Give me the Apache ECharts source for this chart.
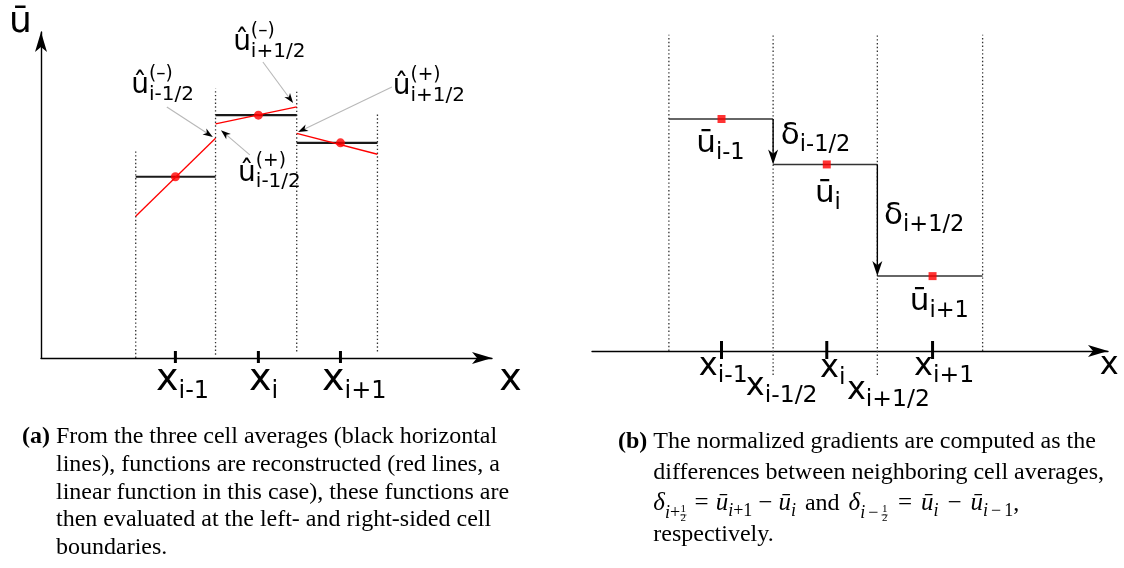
<!DOCTYPE html>
<html>
<head>
<meta charset="utf-8">
<title>cell averages and gradients</title>
<script src="https://cdn.jsdelivr.net/npm/echarts@6.0.0/dist/echarts.min.js"></script>
<style>
  html, body { margin: 0; padding: 0; background: #fff; }
  #chart { width: 1124px; height: 568px; }
</style>
</head>
<body>
<div id="chart"></div>
<script>
// ---- panel (a): linear reconstruction inside three cells ----
var aBounds = [21.0, 38.7, 56.7, 74.6];      // cell faces
var aBoundTop = [63.8, 82.7, 82.2, 75.1];    // top of the dotted face lines
var aBoundBottom = [0, 1, 2, 2];
var aCenters = [29.8, 48.2, 66.4];           // x_{i-1}, x_i, x_{i+1}
var aAverages = [55.6, 74.5, 66.0];          // cell averages
var aLeftValues = [43.5, 71.8, 68.9];        // reconstruction at the left face
var aRightValues = [67.4, 77.0, 62.5];       // reconstruction at the right face
var aPointers = [                            // label -> face value pointers
  [27.9, 77.0, 38.1, 67.8],
  [49.2, 90.8, 55.9, 78.2],
  [77.8, 83.1, 57.0, 69.3],
  [46.3, 62.3, 39.9, 69.9]
];
var aFaceLabels = [['û', '(–)', 'i-1/2'], ['û', '(–)', 'i+1/2'], ['û', '(+)', 'i+1/2'], ['û', '(+)', 'i-1/2']];
var aFaceLabelAt = [[20.0, 80.4], [42.6, 93.6], [78.0, 80.1], [43.7, 53.7]];
var aTickLabels = [['x', '', 'i-1'], ['x', '', 'i'], ['x', '', 'i+1'], ['x', '', '']];
var aTickLabelAt = [[25.5, -10.7], [46.1, -10.7], [62.3, -10.7], [101.6, -10.7]];
var aAxisLabels = [['ū', '', '']];
var aAxisLabelAt = [[-7.1, 99.0]];

// ---- panel (b): differences of neighbouring averages ----
var bBounds = [14.9, 35.1, 55.3, 75.7];
var bBoundTop = [98.8, 98.8, 98.8, 98.8];
var bBoundBottom = [0, -7.5, -7.5, 0];
var bCenters = [25.1, 45.5, 66.0];
var bAverages = [72.5, 58.3, 23.4];
var bValueLabels = [['ū', '', 'i-1'], ['δ', '', 'i-1/2'], ['ū', '', 'i'], ['δ', '', 'i+1/2'], ['ū', '', 'i+1']];
var bValueLabelAt = [[20.2, 61.25], [36.6, 63.75], [43.2, 45.6], [56.6, 38.75], [61.6, 11.9]];
var bTickLabels = [['x', '', 'i-1'], ['x', '', 'i-1/2'], ['x', '', 'i'], ['x', '', 'i+1/2'], ['x', '', 'i+1'], ['x', '', '']];
var bTickLabelAt = [[20.7, -8.4], [29.8, -14.7], [44.2, -9.1], [49.4, -15.9], [62.4, -8.4], [98.4, -8.1]];

var captionA = [
  'From the three cell averages (black horizontal',
  'lines), functions are reconstructed (red lines, a',
  'linear function in this case), these functions are',
  'then evaluated at the left- and right-sided cell',
  'boundaries.'
];
var captionB = [
  'The normalized gradients are computed as the',
  'differences between neighboring cell averages,',
  null,
  'respectively.'
];

var measureCtx = document.createElement('canvas').getContext('2d');
function textWidth(s, font) {
  measureCtx.font = font;
  return measureCtx.measureText(s).width;
}

function sansText(s, x, baseline, size) {
  return {
    type: 'text', x: x, y: baseline - 0.346 * size,
    style: { text: s, fontSize: size, fontFamily: 'DejaVu Sans', fill: '#000', align: 'left', verticalAlign: 'middle' }
  };
}

// base glyph with optional superscript (t[1]) and subscript (t[2])
function labelSeries(gi, texts, at, size, subSize) {
  return {
    type: 'custom', xAxisIndex: gi, yAxisIndex: gi, clip: false, silent: true, z: 6,
    data: at.map(function (p, k) { return [p[0], p[1], k]; }),
    renderItem: function (params, api) {
      var t = texts[api.value(2)];
      var p = api.coord([api.value(0), api.value(1)]);
      var w = textWidth(t[0], size + 'px "DejaVu Sans"');
      var kids = [sansText(t[0], p[0], p[1], size)];
      if (t[1]) kids.push(sansText(t[1], p[0] + w, p[1] - 0.55 * size, subSize * 0.93));
      if (t[2]) kids.push(sansText(t[2], p[0] + w, p[1] + 0.2 * size, subSize));
      return { type: 'group', children: kids };
    }
  };
}

function segmentSeries(gi, segs, style, z) {
  return {
    type: 'custom', xAxisIndex: gi, yAxisIndex: gi, clip: false, silent: true, z: z || 2,
    data: segs,
    renderItem: function (params, api) {
      var p1 = api.coord([api.value(0), api.value(1)]);
      var p2 = api.coord([api.value(2), api.value(3)]);
      return {
        type: 'line',
        shape: { x1: p1[0], y1: p1[1], x2: p2[0], y2: p2[1] },
        style: Object.assign({}, style)
      };
    }
  };
}

function arrowSeries(gi, segs, shaftColor, lw, headLen, headWid) {
  return {
    type: 'custom', xAxisIndex: gi, yAxisIndex: gi, clip: false, silent: true, z: 4,
    data: segs,
    renderItem: function (params, api) {
      var p1 = api.coord([api.value(0), api.value(1)]);
      var p2 = api.coord([api.value(2), api.value(3)]);
      var dx = p2[0] - p1[0], dy = p2[1] - p1[1];
      var d = Math.sqrt(dx * dx + dy * dy);
      var ux = dx / d, uy = dy / d, nx = -uy, ny = ux;
      var bx = p2[0] - ux * headLen, by = p2[1] - uy * headLen;
      var mx = p2[0] - ux * headLen * 0.72, my = p2[1] - uy * headLen * 0.72;
      return {
        type: 'group',
        children: [
          { type: 'line', shape: { x1: p1[0], y1: p1[1], x2: mx, y2: my }, style: { stroke: shaftColor, lineWidth: lw } },
          {
            type: 'polygon',
            shape: { points: [[p2[0], p2[1]], [bx + nx * headWid / 2, by + ny * headWid / 2], [mx, my], [bx - nx * headWid / 2, by - ny * headWid / 2]] },
            style: { fill: '#000' }
          }
        ]
      };
    }
  };
}

function tickSeries(gi, centers, up, down) {
  return {
    type: 'custom', xAxisIndex: gi, yAxisIndex: gi, clip: false, silent: true, z: 5,
    data: centers.map(function (c) { return [c, 0]; }),
    renderItem: function (params, api) {
      var p = api.coord([api.value(0), 0]);
      return { type: 'line', shape: { x1: p[0], y1: p[1] - up, x2: p[0], y2: p[1] + down }, style: { stroke: '#000', lineWidth: 3 } };
    }
  };
}

// caption text, laid out run by run (bold label, italic maths, sub/superscripts)
function serifRuns(x, baseline, runs, size) {
  var out = [];
  runs.forEach(function (r) {
    var s = r.s || size;
    if (r.gap) { x += r.gap; return; }
    if (r.frac) {
      var fw = textWidth('2', s + 'px "Liberation Serif"');
      out.push(serifEl('1', x + 0.5, baseline + r.dy1, s, false, false));
      out.push(serifEl('2', x + 0.5, baseline + r.dy2, s, false, false));
      out.push({ type: 'line', silent: true, shape: { x1: x, y1: baseline + r.bar, x2: x + fw + 1, y2: baseline + r.bar }, style: { stroke: '#000', lineWidth: 0.6 } });
      x += fw + 2;
      return;
    }
    var font = (r.i ? 'italic ' : '') + (r.b ? 'bold ' : '') + s + 'px "Liberation Serif"';
    out.push(serifEl(r.t, x, baseline + (r.dy || 0), s, r.i, r.b));
    x += textWidth(r.t, font);
  });
  return out;
}
function serifEl(t, x, baseline, s, italic, bold) {
  return {
    type: 'text', x: x, y: baseline - 0.3375 * s, silent: true,
    style: {
      text: t, fontSize: s, fontFamily: 'Liberation Serif',
      fontStyle: italic ? 'italic' : 'normal', fontWeight: bold ? 'bold' : 'normal',
      fill: '#000', align: 'left', verticalAlign: 'middle'
    }
  };
}

var capSize = 24;
var graphics = [];
var capAX = 22, capAIndent = capAX + textWidth('(a) ', 'bold ' + capSize + 'px "Liberation Serif"');
var capABase = [445, 473, 501, 528, 556];
captionA.forEach(function (line, k) {
  if (k === 0) {
    graphics = graphics.concat(serifRuns(capAX, capABase[k], [{ t: '(a)', b: 1 }, { t: ' ' + line }], capSize));
  } else {
    graphics = graphics.concat(serifRuns(capAIndent, capABase[k], [{ t: line }], capSize));
  }
});
var capBX = 618, capBIndent = capBX + textWidth('(b) ', 'bold ' + capSize + 'px "Liberation Serif"');
var capBBase = [450, 481, 512, 543];
var m = 25, sub = 18;
var formula = [
  { t: 'δ', i: 1, s: m }, { t: 'i', i: 1, s: sub, dy: 7 }, { t: '+', s: sub, dy: 7 }, { frac: 1, s: 11, dy1: 1, dy2: 10, bar: 3 },
  { gap: 7 }, { t: '=', s: m }, { gap: 7 }, { t: 'ū', i: 1, s: m }, { t: 'i', i: 1, s: sub, dy: 5 }, { t: '+1', s: sub, dy: 5 },
  { gap: 6 }, { t: '−', s: m }, { gap: 6 }, { t: 'ū', i: 1, s: m }, { t: 'i', i: 1, s: sub, dy: 5 },
  { gap: 3 }, { t: ' and ' }, { gap: 3 },
  { t: 'δ', i: 1, s: m }, { t: 'i', i: 1, s: sub, dy: 7 }, { gap: 3 }, { t: '−', s: sub, dy: 7 }, { gap: 3 }, { frac: 1, s: 11, dy1: 1, dy2: 10, bar: 3 },
  { gap: 9 }, { t: '=', s: m }, { gap: 9 }, { t: 'ū', i: 1, s: m }, { t: 'i', i: 1, s: sub, dy: 5 },
  { gap: 9 }, { t: '−', s: m }, { gap: 9 }, { t: 'ū', i: 1, s: m }, { t: 'i', i: 1, s: sub, dy: 5 }, { gap: 3 }, { t: '−', s: sub, dy: 5 }, { gap: 3 }, { t: '1', s: sub, dy: 5 }, { t: ',' }
];
captionB.forEach(function (line, k) {
  if (k === 0) {
    graphics = graphics.concat(serifRuns(capBX, capBBase[k], [{ t: '(b)', b: 1 }, { t: ' ' + line }], capSize));
  } else if (line === null) {
    graphics = graphics.concat(serifRuns(capBIndent, capBBase[k], formula, capSize));
  } else {
    graphics = graphics.concat(serifRuns(capBIndent, capBBase[k], [{ t: line }], capSize));
  }
});

var dotted = { stroke: '#333', lineWidth: 1.3, lineDash: [1.4, 2.4] };

function hiddenAxisParts(ax) {
  ax.type = 'value';
  ax.min = 0;
  ax.max = 100;
  ax.axisTick = { show: false };
  ax.axisLabel = { show: false };
  ax.splitLine = { show: false };
  return ax;
}
var arrowLine = { show: true, onZero: true, symbol: ['none', 'arrow'], symbolSize: [9, 20], lineStyle: { color: '#000', width: 1.4 } };

var option = {
  animation: false,
  backgroundColor: '#fff',
  grid: [
    { left: 41, top: 32, width: 451, height: 326, containLabel: false, outerBoundsMode: 'none' },
    { left: 592, top: 31, width: 516, height: 320, containLabel: false, outerBoundsMode: 'none' }
  ],
  xAxis: [
    hiddenAxisParts({ gridIndex: 0, axisLine: arrowLine }),
    hiddenAxisParts({ gridIndex: 1, axisLine: arrowLine })
  ],
  yAxis: [
    hiddenAxisParts({ gridIndex: 0, axisLine: arrowLine }),
    hiddenAxisParts({ gridIndex: 1, show: false })
  ],
  graphic: graphics,
  series: [
    // panel (a)
    segmentSeries(0, aBounds.map(function (b, k) { return [b, aBoundBottom[k], b, aBoundTop[k]]; }), dotted, 1),
    segmentSeries(0, aAverages.map(function (v, k) { return [aBounds[k], v, aBounds[k + 1], v]; }), { stroke: '#1a1a1a', lineWidth: 2.2 }, 2),
    segmentSeries(0, aAverages.map(function (v, k) { return [aBounds[k], aLeftValues[k], aBounds[k + 1], aRightValues[k]]; }), { stroke: '#ff0000', lineWidth: 1.3 }, 3),
    {
      type: 'scatter', xAxisIndex: 0, yAxisIndex: 0, silent: true, z: 5,
      symbolSize: 9, itemStyle: { color: '#ff0000' },
      data: aCenters.map(function (c, k) { return [c, aAverages[k]]; })
    },
    arrowSeries(0, aPointers, '#b8b8b8', 1.1, 10, 7),
    tickSeries(0, aCenters, 7, 5),
    labelSeries(0, aFaceLabels, aFaceLabelAt, 28, 20),
    labelSeries(0, aTickLabels, aTickLabelAt, 38, 24),
    labelSeries(0, aAxisLabels, aAxisLabelAt, 36, 20),
    // panel (b)
    segmentSeries(1, bBounds.map(function (b, k) { return [b, bBoundBottom[k], b, bBoundTop[k]]; }), dotted, 1),
    segmentSeries(1, bAverages.map(function (v, k) { return [bBounds[k], v, bBounds[k + 1], v]; }), { stroke: '#333', lineWidth: 1.5 }, 2),
    arrowSeries(1, [[bBounds[1], bAverages[0], bBounds[1], bAverages[1]], [bBounds[2], bAverages[1], bBounds[2], bAverages[2]]], '#000', 1.4, 15, 10),
    {
      type: 'scatter', xAxisIndex: 1, yAxisIndex: 1, silent: true, z: 5,
      symbol: 'rect', symbolSize: 8, itemStyle: { color: '#ff0000' },
      data: bCenters.map(function (c, k) { return [c, bAverages[k]]; })
    },
    tickSeries(1, bCenters, 10, 8),
    labelSeries(1, bValueLabels, bValueLabelAt, 31, 22.5),
    labelSeries(1, bTickLabels, bTickLabelAt, 32, 23.5)
  ]
};

var chart = echarts.init(document.getElementById('chart'), null, { renderer: 'canvas' });
chart.setOption(option);
</script>
</body>
</html>
